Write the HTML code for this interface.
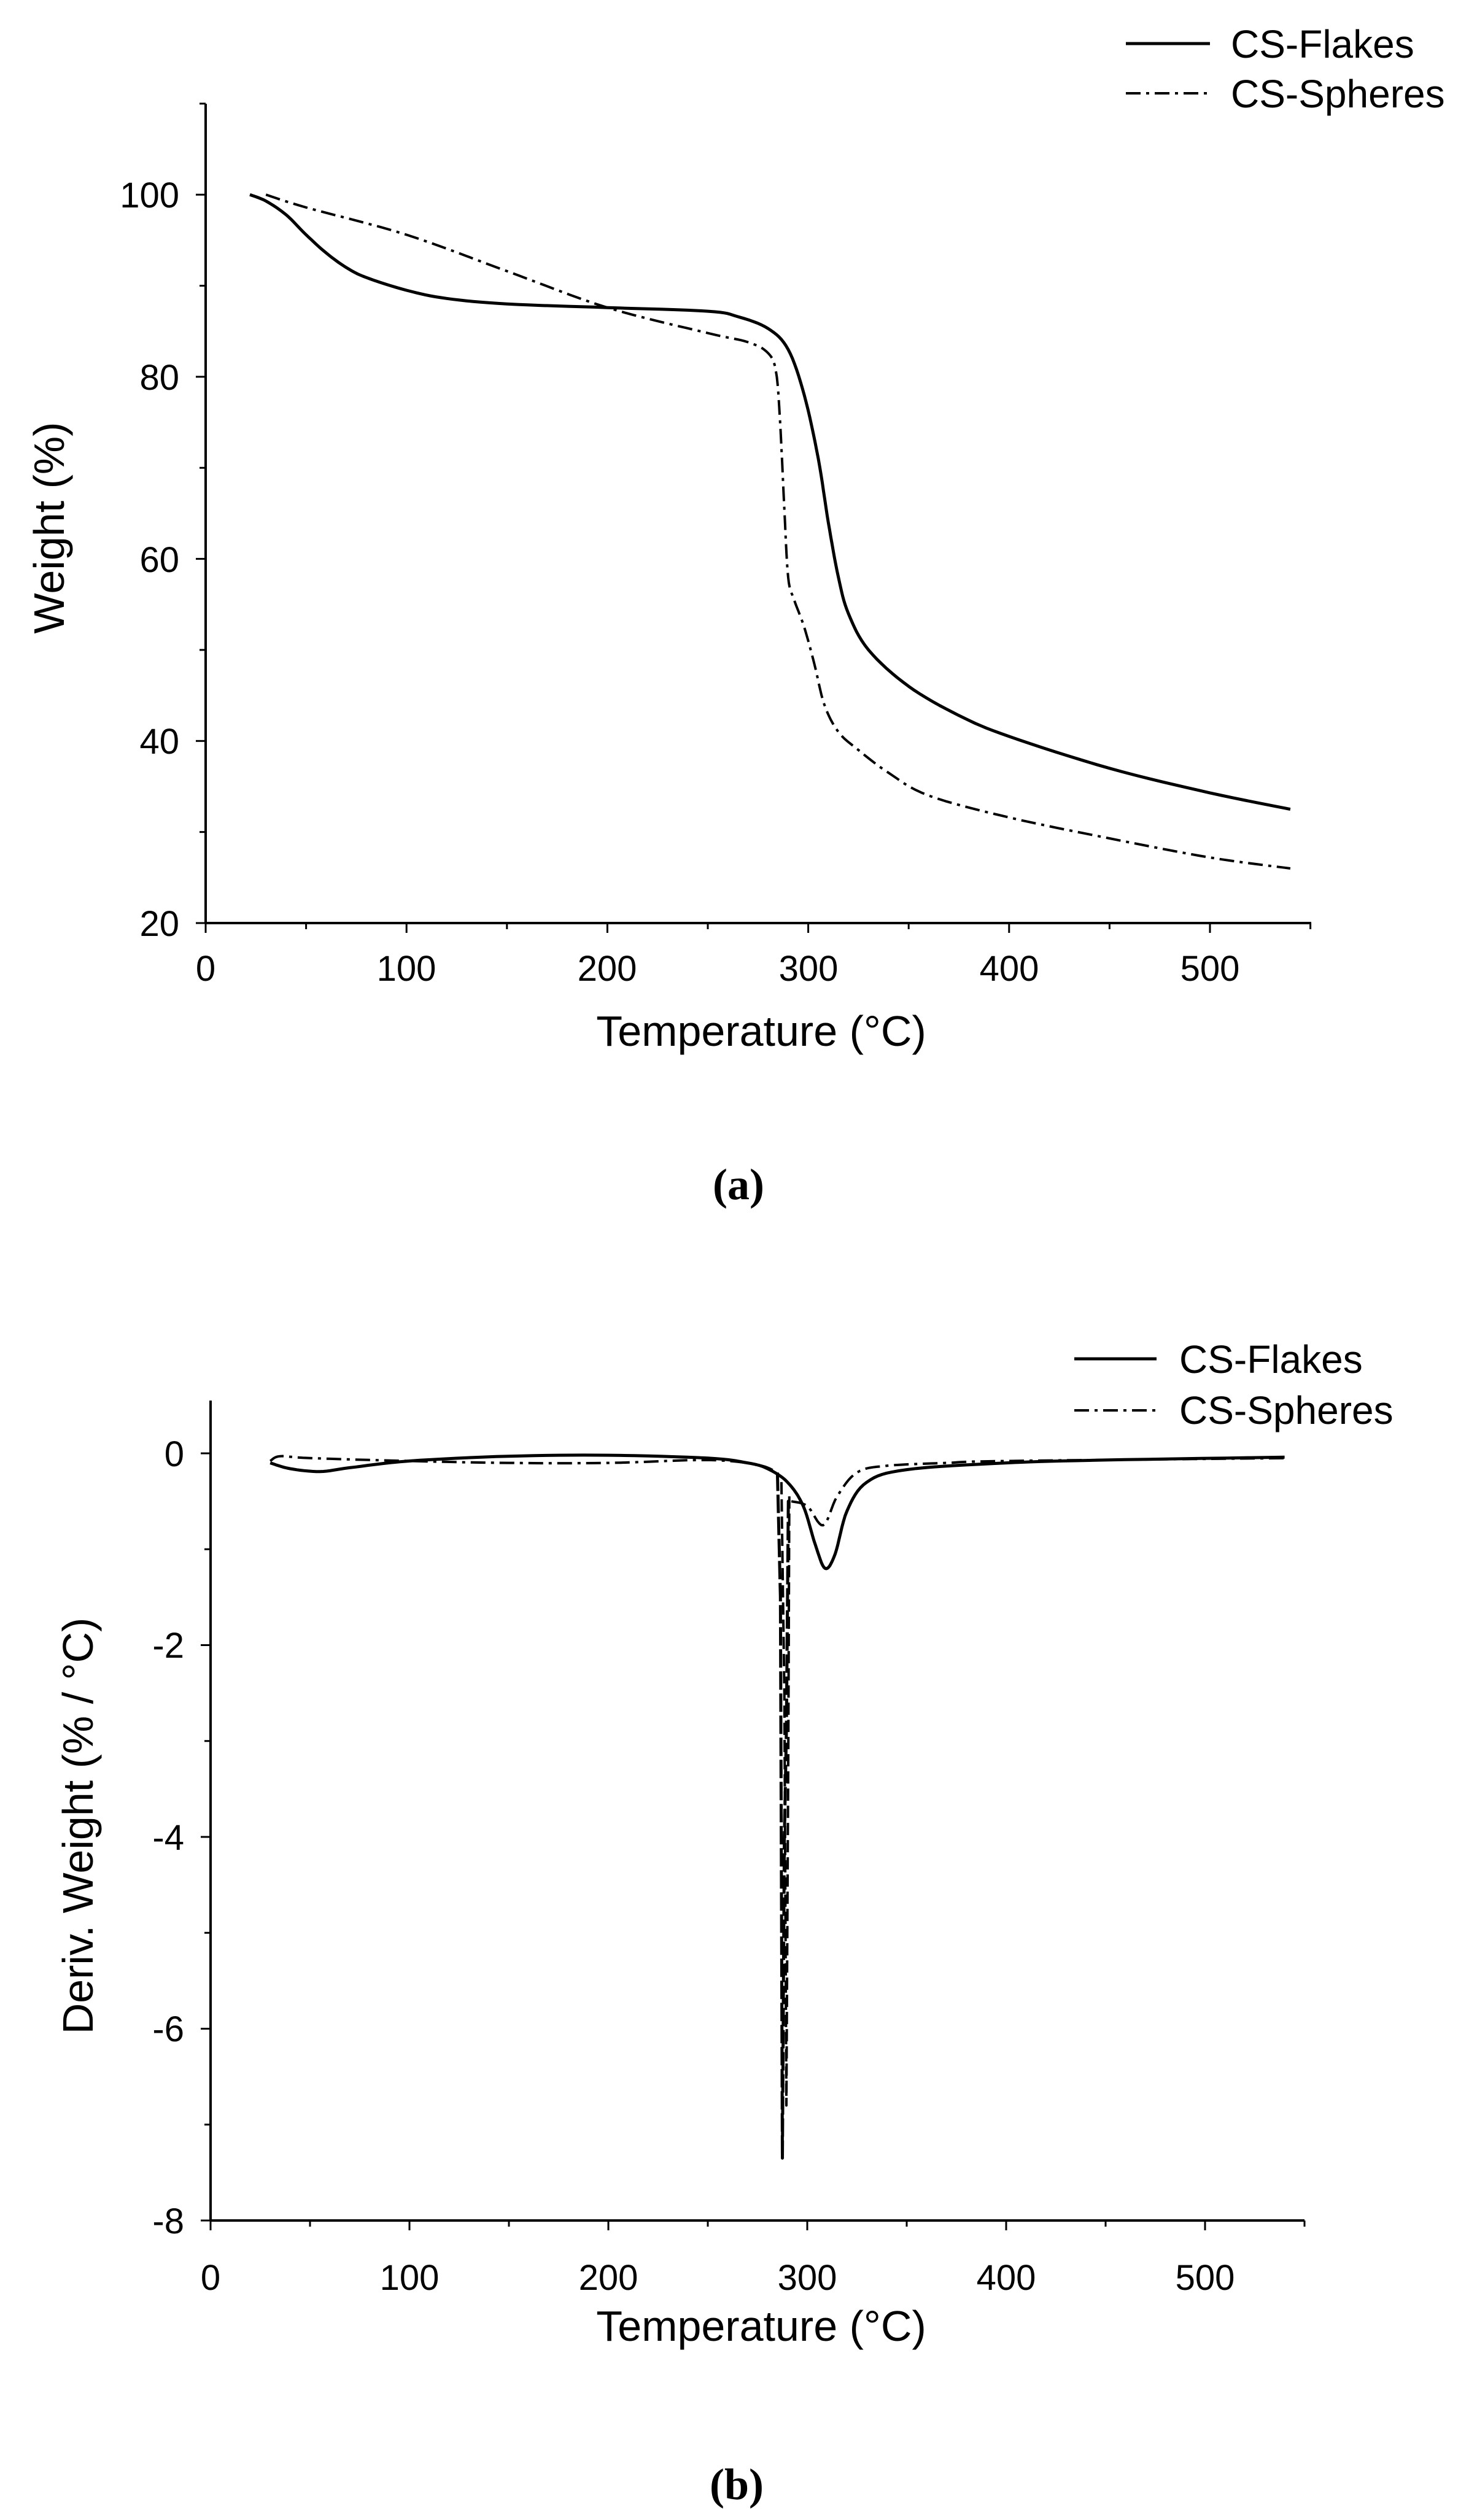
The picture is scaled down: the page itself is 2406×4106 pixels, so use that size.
<!DOCTYPE html>
<html><head><meta charset="utf-8"><style>
html,body{margin:0;padding:0;background:#fff}
svg{display:block}
text{font-family:"Liberation Sans",Arial,sans-serif;fill:#000}
</style></head><body>
<svg id="s" width="2406" height="4106" viewBox="0 0 2406 4106" xmlns="http://www.w3.org/2000/svg">
<rect width="2406" height="4106" fill="#fff"/>
<g id="a"></g>
<g id="b"></g>
<g font-size="58" text-anchor="middle">
<text x="335" y="1598">0</text><text x="662" y="1598">100</text><text x="989" y="1598">200</text><text x="1317" y="1598">300</text><text x="1644" y="1598">400</text><text x="1971" y="1598">500</text>
</g>
<g font-size="58" text-anchor="end">
<text x="292" y="338">100</text><text x="292" y="635">80</text><text x="292" y="932">60</text><text x="292" y="1228">40</text><text x="292" y="1525">20</text>
</g>
<text x="1240" y="1704" font-size="70" text-anchor="middle">Temperature (°C)</text>
<text transform="translate(104,860) rotate(-90)" font-size="70" text-anchor="middle">Weight (%)</text>
<text x="2005" y="94" font-size="64">CS-Flakes</text>
<text x="2005" y="175" font-size="64">CS-Spheres</text>
<text x="1203" y="1954" font-size="72" font-weight="bold" text-anchor="middle" style="font-family:'Liberation Serif',serif">(a)</text>

<g font-size="58" text-anchor="middle">
<text x="343" y="3731">0</text><text x="667" y="3731">100</text><text x="991" y="3731">200</text><text x="1315" y="3731">300</text><text x="1639" y="3731">400</text><text x="1963" y="3731">500</text>
</g>
<g font-size="58" text-anchor="end">
<text x="300" y="2389">0</text><text x="300" y="2701">-2</text><text x="300" y="3014">-4</text><text x="300" y="3326">-6</text><text x="300" y="3639">-8</text>
</g>
<text x="1240" y="3814" font-size="70" text-anchor="middle">Temperature (°C)</text>
<text transform="translate(151,2975) rotate(-90)" font-size="70" text-anchor="middle">Deriv. Weight (% / °C)</text>
<text x="1921" y="2237" font-size="64">CS-Flakes</text>
<text x="1921" y="2320" font-size="64">CS-Spheres</text>
<text x="1200" y="4072" font-size="72" font-weight="bold" text-anchor="middle" style="font-family:'Liberation Serif',serif">(b)</text>
</svg>
<script>
var NS="http://www.w3.org/2000/svg";
function el(g,t,a){var e=document.createElementNS(NS,t);for(var k in a)e.setAttribute(k,a[k]);g.appendChild(e);return e;}
function ax(g,o){
 el(g,"line",{x1:o.xa,y1:o.ya,x2:o.xEnd,y2:o.ya,stroke:"#000","stroke-width":4});
 el(g,"line",{x1:o.xa,y1:o.ya,x2:o.xa,y2:o.yTop,stroke:"#000","stroke-width":4});
 for(var t=0;t<=550;t+=50){var x=o.xa+t*o.xs;el(g,"line",{x1:x,y1:o.ya,x2:x,y2:o.ya+(t%100==0?16:10),stroke:"#000","stroke-width":3});}
 o.yt.forEach(function(v,i){var y=o.yf(v);el(g,"line",{x1:o.xa,y1:y,x2:o.xa-(i%2==0?16:10),y2:y,stroke:"#000","stroke-width":3});});
}
function path(g,pts,xf,yf,dash,w){
 var d="";pts.forEach(function(p,i){d+=(i?"L":"M")+xf(p[0]).toFixed(1)+","+yf(p[1]).toFixed(1);});
 var a={d:d,fill:"none",stroke:"#000","stroke-width":w||5,"stroke-linejoin":"round"};
 if(dash)a["stroke-dasharray"]=dash;
 el(g,"path",a);
}
function dense(p){var r=[];for(var i=0;i<p.length-1;i++){var p0=p[Math.max(0,i-1)],p1=p[i],p2=p[i+1],p3=p[Math.min(p.length-1,i+2)];
 for(var s=0;s<8;s++){var t=s/8,t2=t*t,t3=t2*t;
 var f=function(a,b,c,d){return 0.5*((2*b)+(-a+c)*t+(2*a-5*b+4*c-d)*t2+(-a+3*b-3*c+d)*t3);};
 r.push([f(p0[0],p1[0],p2[0],p3[0]),f(p0[1],p1[1],p2[1],p3[1])]);}}r.push(p[p.length-1]);return r;}
var DD="24,9,5,9";
var ga=document.getElementById("a");
var xa=function(t){return 335+t*3.272;}, ya=function(v){return 1504-(v-20)*14.835;};
var yt=[];for(var v=20;v<=110;v+=10)yt.push(v);
ax(ga,{xa:335,ya:1504,xEnd:2136,yTop:169,xs:3.272,yf:ya,yt:yt});
var fa=[[22,100],[30,99.3],[40,97.8],[50,95.6],[60,93.6],[70,92],[80,90.9],[100,89.5],[120,88.6],[150,88],[200,87.6],[250,87.2],[265,86.6],[280,85.3],[290,83],[298,78],[305,71],[310,64],[315,58],[320,54],[330,50],[350,46],[375,42.8],[400,40.5],[450,37],[500,34.3],[540,32.5]];
var sa=[[30,100],[50,98.6],[100,95.6],[150,91.6],[200,87.6],[250,84.8],[270,83.8],[280,82.6],[284,80.5],[286,75],[288,66],[290,58],[293,55.5],[298,52.5],[303,48.5],[308,44],[315,41],[325,39],[340,36.5],[360,34],[400,31.6],[450,29.3],[500,27.2],[540,26]];
path(ga,dense(fa),xa,ya,null,5);
path(ga,dense(sa),xa,ya,DD,4);
el(ga,"line",{x1:1834,y1:71,x2:1971,y2:71,stroke:"#000","stroke-width":5});
el(ga,"line",{x1:1834,y1:152,x2:1971,y2:152,stroke:"#000","stroke-width":4,"stroke-dasharray":DD});
var gb=document.getElementById("b");
var xb=function(t){return 343+t*3.24;}, yb=function(v){return 2368-v*156.25;};
var ytb=[];for(var v=-8;v<=0;v+=1)ytb.push(v);
ax(gb,{xa:343,ya:3618,xEnd:2125,yTop:2282,xs:3.24,yf:yb,yt:ytb});
var fb=[[30,-0.1],[40,-0.16],[55,-0.19],[70,-0.15],[100,-0.08],[150,-0.03],[200,-0.02],[250,-0.05],[270,-0.1],[280,-0.16],[290,-0.3],[298,-0.55],[304,-0.95],[309,-1.2],[314,-1.05],[320,-0.6],[330,-0.3],[350,-0.17],[400,-0.1],[450,-0.07],[540,-0.04]];
var sb1=[[30,-0.08],[35,-0.03],[50,-0.05],[100,-0.08],[150,-0.1],[200,-0.1],[250,-0.07],[275,-0.12],[285,-0.2]];
var sb3=[[292,-0.5],[300,-0.55],[308,-0.75],[315,-0.45],[325,-0.2],[340,-0.13],[370,-0.1],[400,-0.08],[540,-0.05]];
path(gb,dense(fb),xb,yb,null,5);
path(gb,dense(sb1),xb,yb,DD,4);
path(gb,dense(sb3),xb,yb,DD,4);
path(gb,[[285,-0.2],[286.5,-1.5],[287.5,-7.35],[288.5,-4],[289.5,-2.9],[290.5,-0.5],[292,-0.5]],xb,yb,"30,6",5);
path(gb,[[287,-0.3],[288.5,-2.5],[289.5,-6.8],[290.5,-3],[291,-0.4]],xb,yb,"20,8",4);
el(gb,"line",{x1:1750,y1:2214,x2:1884,y2:2214,stroke:"#000","stroke-width":5});
el(gb,"line",{x1:1750,y1:2298,x2:1884,y2:2298,stroke:"#000","stroke-width":4,"stroke-dasharray":DD});
</script>
</body></html>
